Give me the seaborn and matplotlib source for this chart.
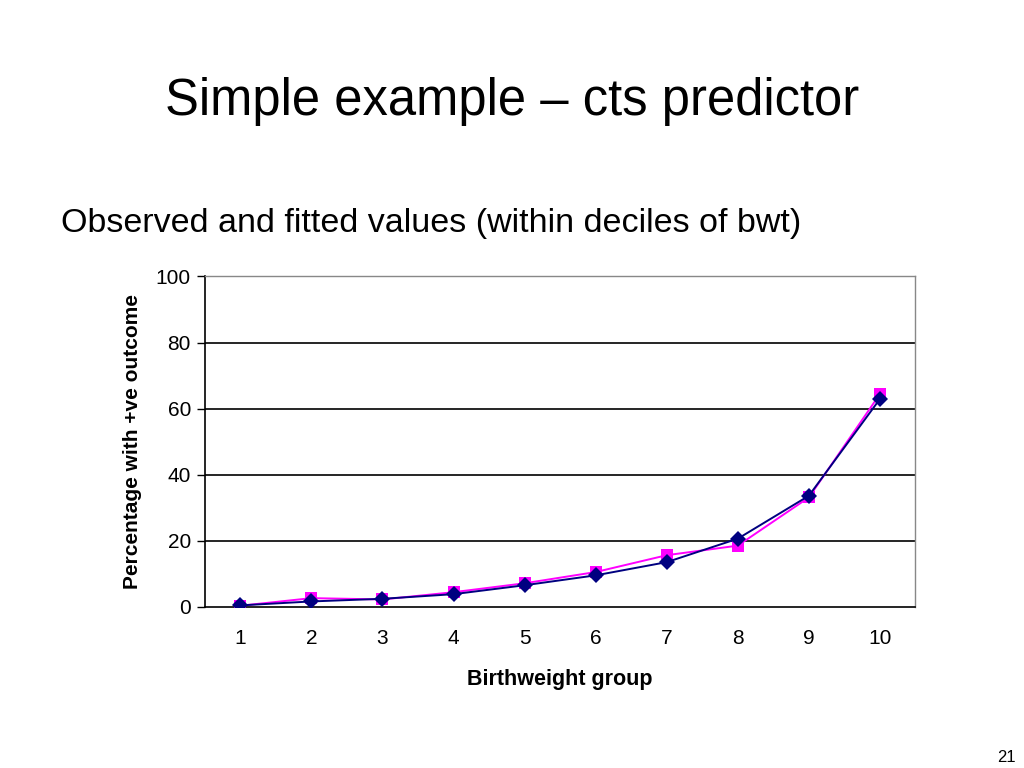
import matplotlib
matplotlib.use("Agg")
import numpy as np
import pandas as pd
import seaborn as sns
from matplotlib import pyplot as plt

# birthweight deciles
groups = [1, 2, 3, 4, 5, 6, 7, 8, 9, 10]
observed = [0.3, 2.6, 2.2, 4.4, 7.1, 10.5, 15.6, 18.5, 33.1, 64.4]
fitted = [0.4, 1.6, 2.4, 3.8, 6.5, 9.5, 13.5, 20.6, 33.6, 62.9]
y_ticks = [0, 20, 40, 60, 80, 100]

sns.set_theme(style="white")
plt.rcParams["font.family"] = ["Liberation Sans", "DejaVu Sans"]
plt.rcParams["text.color"] = "black"
plt.rcParams["axes.labelcolor"] = "black"
plt.rcParams["xtick.color"] = "black"
plt.rcParams["ytick.color"] = "black"

fig = plt.figure(figsize=(10.24, 7.68), dpi=100)
ax = fig.add_axes([0.2, 0.21, 0.694, 0.43])

df = pd.DataFrame({"group": groups, "observed": observed, "fitted": fitted})

sns.lineplot(data=df, x="group", y="observed", ax=ax, color="#FF00FF",
             marker="s", markersize=8.5, markeredgewidth=0, linewidth=1.4, zorder=3)
sns.lineplot(data=df, x="group", y="fitted", ax=ax, color="#000080",
             marker="D", markersize=8, markeredgewidth=0, linewidth=1.4, zorder=4)

ax.set_xlim(0.5, 10.5)
ax.set_ylim(0, 100)
ax.set_xticks(groups)
ax.set_xticklabels([str(g) for g in groups], fontsize=15)
ax.set_xticks(np.arange(0.5, 11, 1), minor=True)
ax.tick_params(axis="x", which="major", length=0, pad=16)
ax.tick_params(axis="x", which="minor", length=6, width=1, color="black", direction="out")
ax.set_yticks(y_ticks)
ax.set_yticklabels([str(v) for v in y_ticks], fontsize=15)
ax.tick_params(axis="y", length=6, width=1, color="black", direction="out", left=True, pad=4)

for v in y_ticks[1:-1]:
    ax.axhline(v, color="black", linewidth=1.2, zorder=1)

for side in ["top", "right"]:
    ax.spines[side].set_color("#888888")
    ax.spines[side].set_linewidth(1)
for side in ["left", "bottom"]:
    ax.spines[side].set_color("black")
    ax.spines[side].set_linewidth(1.2)

ax.set_xlabel("Birthweight group", fontsize=15.5, fontweight="bold", labelpad=15)
ax.set_ylabel("Percentage with +ve outcome", fontsize=15, fontweight="bold", labelpad=10)

fig.text(0.5, 0.868, "Simple example \u2013 cts predictor", ha="center", va="center",
         fontsize=36.5)
fig.text(0.06, 0.709, "Observed and fitted values (within deciles of bwt)", ha="left",
         va="center", fontsize=24.5)
fig.text(0.992, 0.004, "21", ha="right", va="bottom", fontsize=12)

fig.savefig("out.png", dpi=100)
